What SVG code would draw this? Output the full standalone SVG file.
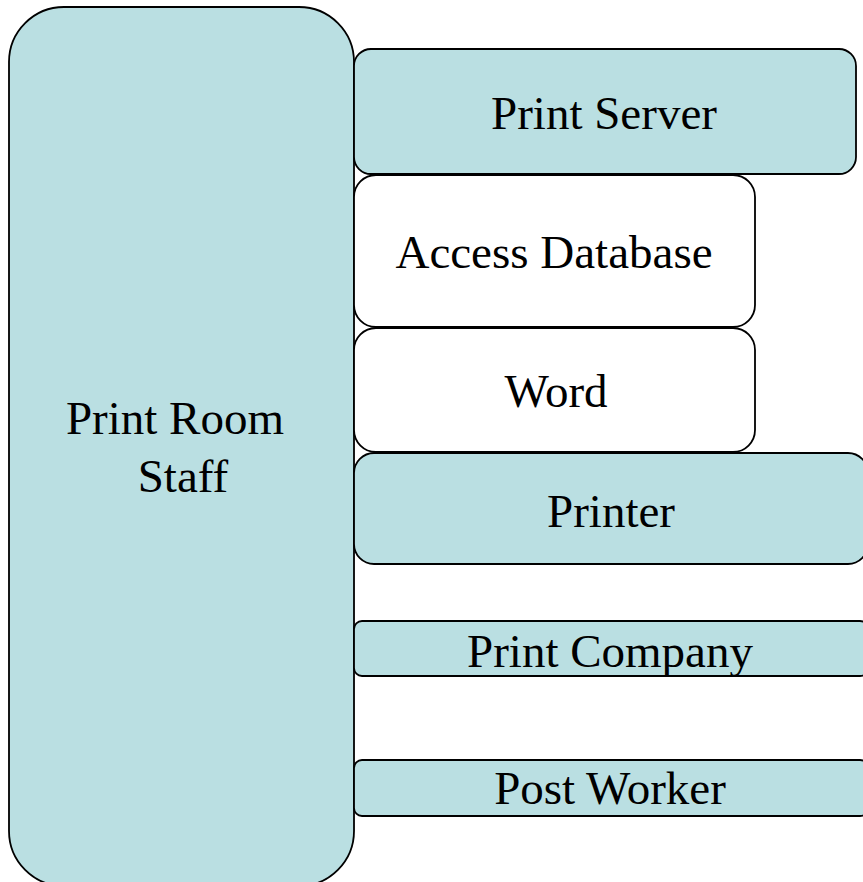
<svg xmlns="http://www.w3.org/2000/svg" width="863" height="882" viewBox="0 0 863 882">
<style>
.b{fill:#BADFE2;stroke:#000;stroke-width:1.8}
.w{fill:#FFFFFF;stroke:#000;stroke-width:1.8}
text{font-family:"Liberation Serif","Times New Roman",serif;font-size:47px;fill:#000;text-anchor:middle}
</style>
<rect width="863" height="882" fill="#fff"/>
<g id="staff">
<rect class="b" x="9" y="7" width="345" height="879" rx="55" ry="55"/>
<text x="175" y="434">Print Room</text>
<text x="183" y="492">Staff</text>
</g>
<g id="print-server">
<rect class="b" x="354" y="49" width="502" height="125" rx="17" ry="17"/>
<text x="604" y="129">Print Server</text>
</g>
<g id="access-database">
<rect class="w" x="354" y="175" width="401" height="152" rx="22" ry="22"/>
<text x="554" y="268">Access Database</text>
</g>
<g id="word">
<rect class="w" x="354" y="328" width="401" height="124" rx="22" ry="22"/>
<text x="556" y="407">Word</text>
</g>
<g id="printer">
<rect class="b" x="354" y="453" width="514" height="111" rx="20" ry="20"/>
<text x="611" y="527">Printer</text>
</g>
<g id="print-company">
<rect class="b" x="354" y="621" width="514" height="55" rx="8" ry="8"/>
<text x="610" y="667">Print Company</text>
</g>
<g id="post-worker">
<rect class="b" x="354" y="760" width="514" height="56" rx="8" ry="8"/>
<text x="610" y="804">Post Worker</text>
</g>
<g id="connectors"></g>
</svg>
